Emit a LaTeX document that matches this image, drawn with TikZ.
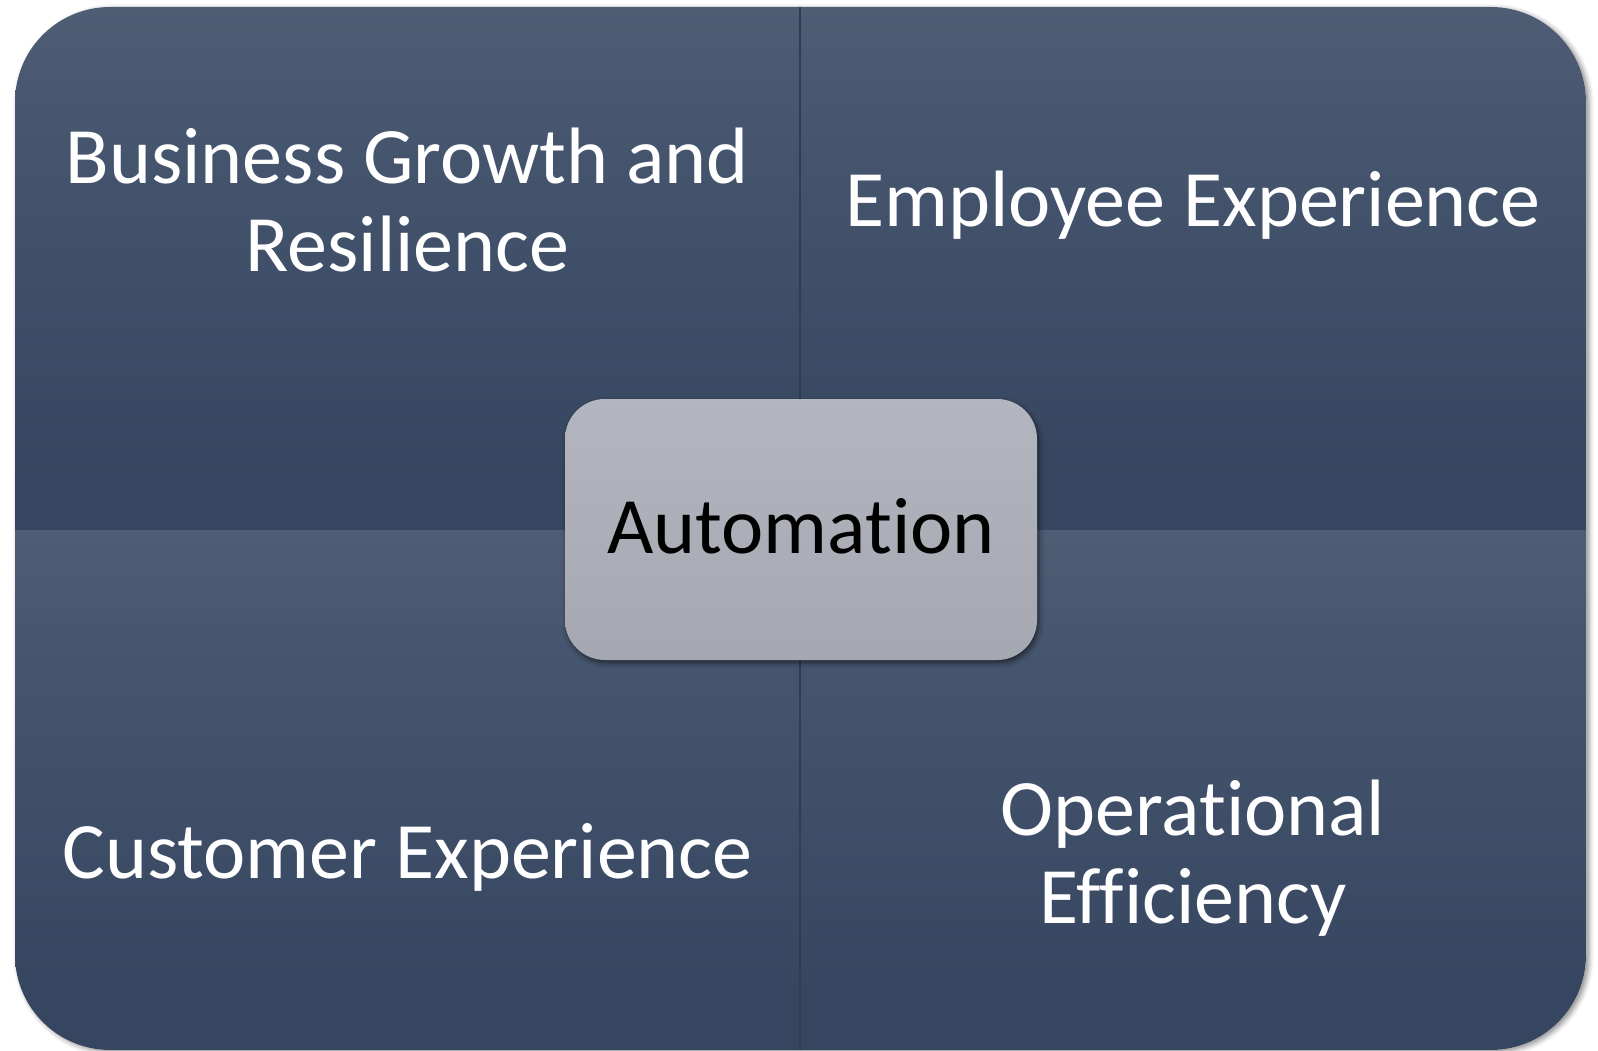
\documentclass[tikz,border=0pt]{standalone}
\usepackage{fontspec}
\setmainfont{Carlito}[Ligatures=NoCommon]
\usetikzlibrary{shadows.blur}
\definecolor{qtop}{RGB}{94,107,128}
\definecolor{qmid}{RGB}{70,85,110}
\definecolor{qbot}{RGB}{55,70,96}
\definecolor{ctop}{RGB}{186,189,198}
\definecolor{cbot}{RGB}{158,161,170}
\definecolor{divline}{RGB}{48,60,82}
\pgfdeclareverticalshading{quadsh}{100bp}{color(0bp)=(qbot); color(30bp)=(qbot); color(62bp)=(qmid); color(100bp)=(qtop)}
\pgfdeclareverticalshading{centersh}{100bp}{color(0bp)=(cbot); color(100bp)=(ctop)}
\tikzset{
  quad/.style={shading=quadsh},
  label/.style={text=white, font=\fontsize{80}{88}\selectfont, align=center, anchor=base, inner sep=0pt},
  centerbox/.style={shading=centersh, rounded corners=40pt,
     blur shadow={shadow xshift=2pt, shadow yshift=-3pt, shadow blur radius=5pt, shadow opacity=55}},
}
\begin{document}
\begin{tikzpicture}[x=1pt,y=-1pt]
\useasboundingbox (0,0) rectangle (1598,1051);
% outer shadow
\path[fill=white, rounded corners=95pt, blur shadow={shadow xshift=3pt, shadow yshift=-2pt, shadow blur radius=5pt, shadow opacity=45}] (15,7) rectangle (1586,1050);
\begin{scope}
  \clip[rounded corners=95pt] (15,7) rectangle (1586,1050);
  \path[quad] (15,7) rectangle (800,530);
  \path[quad] (800,7) rectangle (1586,530);
  \path[quad] (15,530) rectangle (800,1050);
  \path[quad] (800,530) rectangle (1586,1050);
  \draw[divline, line width=1.5pt] (800,7) -- (800,1050);
\end{scope}
\node[label] (bg) at (407.5,271) {Business Growth and\\Resilience};
\node[label] (ee) at (1193,226) {Employee Experience};
\node[label] (ce) at (407.5,878) {Customer Experience};
\node[label] (oe) at (1193,923) {Operational\\Efficiency};
\path[centerbox] (565,399) rectangle (1037,660);
\node[label, text=black] (auto) at (801,553) {Automation};
\end{tikzpicture}
\end{document}
